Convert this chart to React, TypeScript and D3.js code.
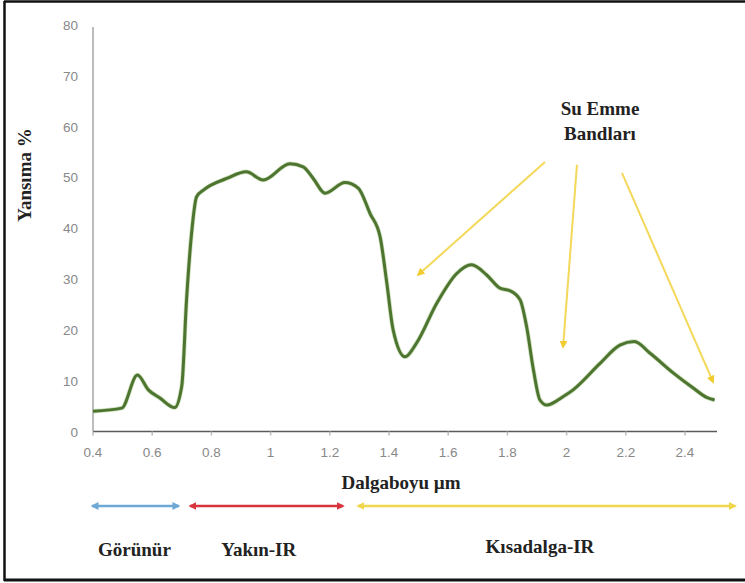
import React from "react";
import * as d3 from "d3";

const wavelengths = [0.4, 0.497, 0.55, 0.587, 0.626, 0.676, 0.7, 0.716, 0.733, 0.75, 0.773, 0.852, 0.918, 0.975, 1.065, 1.11, 1.144, 1.184, 1.251, 1.296, 1.336, 1.37, 1.392, 1.414, 1.454, 1.493, 1.561, 1.629, 1.679, 1.73, 1.775, 1.809, 1.843, 1.865, 1.888, 1.91, 1.933, 1.989, 2.022, 2.113, 2.18, 2.229, 2.282, 2.361, 2.429, 2.473, 2.5];
const reflectance = [4.0, 4.6, 11.1, 8.2, 6.6, 4.7, 9.0, 25.9, 39, 46.2, 47.5, 49.8, 51.1, 49.5, 52.7, 52.1, 49.8, 46.9, 49, 47.9, 42.9, 38.3, 29.5, 20, 14.7, 17.4, 25.2, 31.1, 32.8, 30.8, 28.2, 27.7, 25.9, 20.6, 12.1, 6.2, 5.2, 6.9, 8.2, 13.4, 17, 17.7, 15.4, 11.5, 8.5, 6.7, 6.2];

const xTicks = [0.4, 0.6, 0.8, 1, 1.2, 1.4, 1.6, 1.8, 2, 2.2, 2.4];
const yTicks = [0, 10, 20, 30, 40, 50, 60, 70, 80];

// annotation arrows: start (wavelength, value) -> tip (wavelength, value)
const annoFromX = [1.927, 2.035, 2.187];
const annoFromY = [53.05, 52.5, 50.9];
const annoToX = [1.498, 1.988, 2.495];
const annoToY = [30.8, 16.6, 9.7];

// spectral region arrows
const regionNames = ["Görünür", "Yakın-IR", "Kısadalga-IR"];
const regionStart = [0.397, 0.728, 1.295];
const regionEnd = [0.69, 1.245, 2.57];
const regionColors = ["#6ea9d6", "#d8343c", "#f0d64c"];
const regionLabelX = [0.54, 0.96, 1.91];

export default function App() {
  const x = d3.scaleLinear().domain([0.4, 2.5]).range([93, 714.6]);
  const y = d3.scaleLinear().domain([0, 80]).range([431.5, 25]);

  const pts: [number, number][] = wavelengths.map((w, i) => [w, reflectance[i]]);
  const line = d3
    .line<[number, number]>()
    .x((d) => x(d[0]))
    .y((d) => y(d[1]))
    .curve(d3.curveMonotoneX);

  const serif = "'Liberation Serif', 'DejaVu Serif', serif";
  const sans = "'Liberation Sans', Arial, sans-serif";

  return (
    <svg
      width={745}
      height={583}
      style={{ position: "absolute", left: 0, top: 0, background: "#fff" }}
    >
      <defs>
        <marker id="ya" viewBox="0 0 10 10" refX="8" refY="5" markerWidth="4" markerHeight="4" orient="auto-start-reverse">
          <path d="M0,0 L10,5 L0,10 z" fill="#f0cc30" />
        </marker>
        {regionColors.map((c, i) => (
          <marker key={i} id={"ra" + i} viewBox="0 0 10 10" refX="8" refY="5" markerWidth="3.2" markerHeight="3.2" orient="auto-start-reverse">
            <path d="M0,0 L10,5 L0,10 z" fill={c} />
          </marker>
        ))}
      </defs>
      <rect x={0} y={0} width={745} height={583} fill="#fff" />
      {/* border */}
      <line x1={4.5} y1={1} x2={4.5} y2={581} stroke="#111" strokeWidth={2.5} />
      <line x1={4} y1={1.5} x2={745} y2={1.5} stroke="#111" strokeWidth={2.5} />
      <line x1={4} y1={580} x2={745} y2={580} stroke="#111" strokeWidth={3} />

      {/* axes */}
      <line x1={x(0.4)} y1={27} x2={x(0.4)} y2={y(0)} stroke="#bdbdbd" strokeWidth={2} />
      <line x1={x(0.4)} y1={y(0)} x2={717} y2={y(0)} stroke="#5a5a5a" strokeWidth={1.5} />
      {xTicks.map((t) => (
        <g key={"xt" + t}>
          <line x1={x(t)} y1={y(0)} x2={x(t)} y2={y(0) + 4} stroke="#bbb" strokeWidth={1.5} />
          <text x={x(t)} y={y(0) + 25} textAnchor="middle" fontFamily={sans} fontSize={13.5} fill="#888">
            {t}
          </text>
        </g>
      ))}
      {yTicks.map((t) => (
        <text key={"yt" + t} x={78} y={y(t) + 5} textAnchor="end" fontFamily={sans} fontSize={13.5} fill="#888">
          {t}
        </text>
      ))}

      {/* curve */}
      <path d={line(pts) || ""} fill="none" stroke="#9cc07a" strokeWidth={4.5} strokeOpacity={0.5} strokeLinejoin="round" />
      <path d={line(pts) || ""} fill="none" stroke="#4d7530" strokeWidth={3} strokeLinejoin="round" />

      {/* annotation arrows */}
      {annoToX.map((tx, i) => (
        <line
          key={"an" + i}
          x1={x(annoFromX[i])}
          y1={y(annoFromY[i])}
          x2={x(tx)}
          y2={y(annoToY[i])}
          stroke="#f3d85a"
          strokeWidth={2}
          markerEnd="url(#ya)"
        />
      ))}
      <text x={600} y={115} textAnchor="middle" fontFamily={serif} fontWeight="bold" fontSize={19} fill="#222">
        Su Emme
      </text>
      <text x={600} y={140} textAnchor="middle" fontFamily={serif} fontWeight="bold" fontSize={19} fill="#222">
        Bandları
      </text>

      {/* axis titles */}
      <text x={401} y={489} textAnchor="middle" fontFamily={serif} fontWeight="bold" fontSize={19} fill="#222">
        Dalgaboyu µm
      </text>
      <text
        transform="translate(31,175) rotate(-90)"
        textAnchor="middle"
        fontFamily={serif}
        fontWeight="bold"
        fontSize={19}
        fill="#222"
      >
        Yansıma %
      </text>

      {/* regions */}
      {regionNames.map((n, i) => (
        <g key={n}>
          <line
            x1={x(regionStart[i])}
            y1={506}
            x2={x(regionEnd[i])}
            y2={506}
            stroke={regionColors[i]}
            strokeWidth={2.5}
            markerStart={"url(#ra" + i + ")"}
            markerEnd={"url(#ra" + i + ")"}
          />
          <text x={x(regionLabelX[i])} y={i === 2 ? 553 : 556} textAnchor="middle" fontFamily={serif} fontWeight="bold" fontSize={19} fill="#222">
            {n}
          </text>
        </g>
      ))}
    </svg>
  );
}
